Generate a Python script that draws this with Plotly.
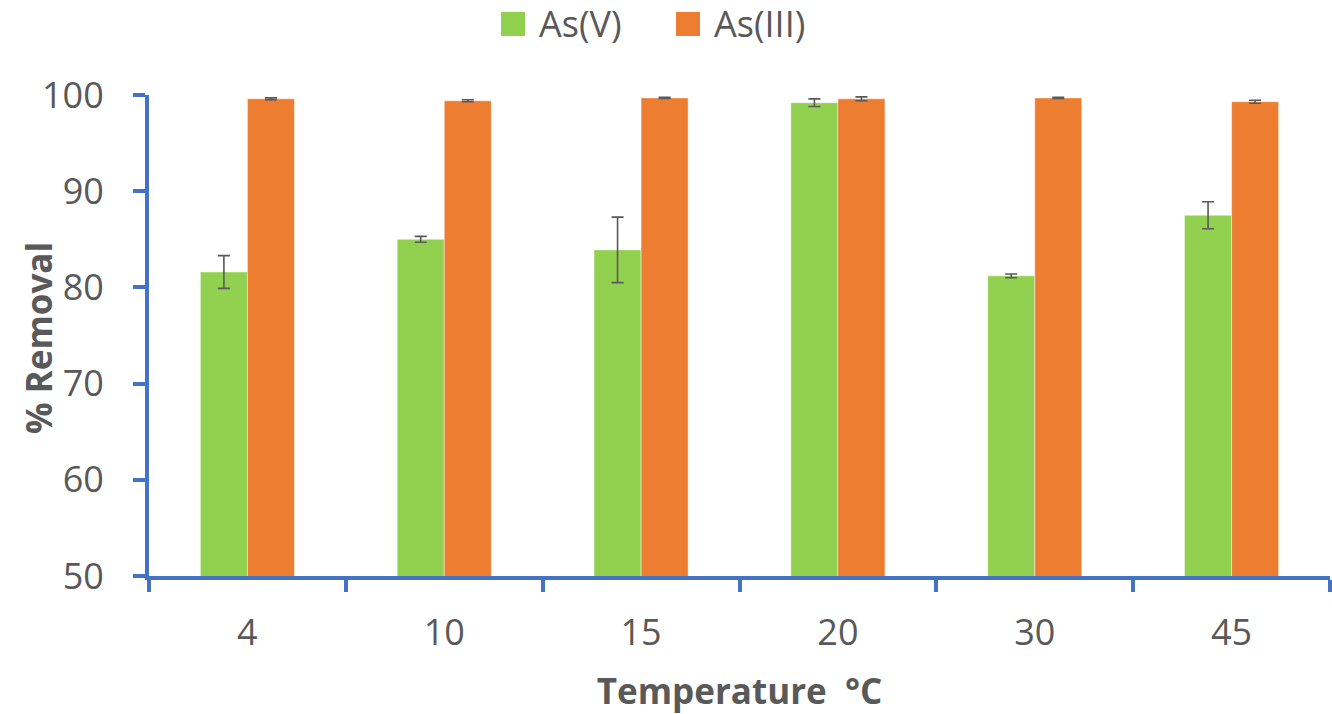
import plotly.graph_objects as go

# Arsenic removal vs. temperature
temperatures = ["4", "10", "15", "20", "30", "45"]
as_v = [81.6, 85.0, 83.9, 99.2, 81.2, 87.5]
as_v_err = [1.7, 0.3, 3.4, 0.4, 0.2, 1.4]
as_iii = [99.6, 99.4, 99.7, 99.6, 99.7, 99.3]
as_iii_err = [0.1, 0.1, 0.05, 0.2, 0.05, 0.15]

series_names = ["As(V)", "As(III)"]
colors = ["#92D050", "#ED7D31"]

TEXT = "#595959"
AXIS = "#4472C4"
FONT = "Open Sans"

W, H = 1332, 714
M_L, M_R, M_T, M_B = 149, 2, 95, 138

fig = go.Figure()
for name, vals, errs, col in zip(series_names, [as_v, as_iii], [as_v_err, as_iii_err], colors):
    fig.add_trace(go.Bar(
        x=temperatures, y=vals, name=name,
        marker=dict(color=col, line=dict(color="rgba(255,255,255,0.45)", width=1)),
        error_y=dict(type="data", array=errs, visible=True, color=TEXT, thickness=1.6, width=6),
        cliponaxis=False, showlegend=False,
    ))

# Pixel -> paper coordinate helpers for legend and axis title placement
plot_w = W - M_L - M_R
plot_h = H - M_T - M_B
def px_x(p):
    return (p - M_L) / plot_w
def px_y(p):
    return (H - M_B - p) / plot_h

# Legend drawn as square swatches with text labels above the plot
legend_items = [(501, 537), (676, 712)]
shapes = []
annotations = []
for (sx, tx), name, col in zip(legend_items, series_names, colors):
    shapes.append(dict(type="rect", xref="paper", yref="paper",
                       x0=px_x(sx), x1=px_x(sx + 24), y0=px_y(36), y1=px_y(12),
                       fillcolor=col, line=dict(width=0)))
    annotations.append(dict(text=name, xref="paper", yref="paper", x=px_x(tx), y=px_y(24),
                            xanchor="left", yanchor="middle", showarrow=False,
                            font=dict(family=FONT, size=36, color=TEXT)))

# Vertical axis title
annotations.append(dict(text="<b>% Removal</b>", xref="paper", yref="paper",
                        x=px_x(38), y=px_y(338), xanchor="center", yanchor="middle",
                        textangle=-90, showarrow=False,
                        font=dict(family=FONT, size=35, color=TEXT)))

fig.update_layout(
    width=W, height=H,
    margin=dict(l=M_L, r=M_R, t=M_T, b=M_B, pad=0),
    paper_bgcolor="white", plot_bgcolor="white",
    barmode="group", bargap=0.522, bargroupgap=0,
    font=dict(family=FONT, color=TEXT),
    shapes=shapes, annotations=annotations,
    xaxis=dict(
        type="category", showgrid=False, zeroline=False,
        showline=True, linecolor=AXIS, linewidth=4,
        ticks="outside", tickson="boundaries", ticklen=12, tickwidth=4, tickcolor=AXIS,
        tickfont=dict(family=FONT, size=36, color=TEXT), ticklabelstandoff=22,
        title=dict(text="<b>Temperature  °C</b>", font=dict(family=FONT, size=35, color=TEXT), standoff=26),
    ),
    yaxis=dict(
        range=[50, 100], dtick=10, tick0=50, showgrid=False, zeroline=False,
        showline=True, linecolor=AXIS, linewidth=4,
        ticks="outside", ticklen=12, tickwidth=4, tickcolor=AXIS,
        tickfont=dict(family=FONT, size=36, color=TEXT), ticklabelstandoff=22,
    ),
)

fig.write_html("out.html")
